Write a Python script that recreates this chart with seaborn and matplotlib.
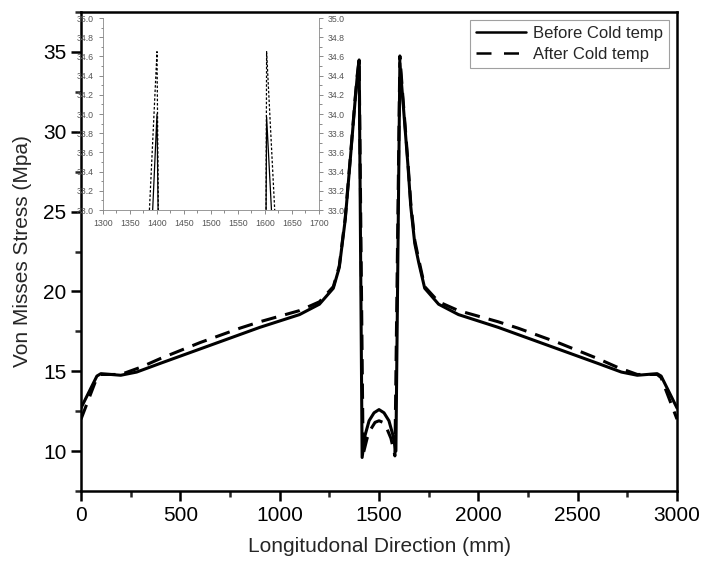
import numpy as np
import pandas as pd
import matplotlib
matplotlib.use("Agg")
import matplotlib.pyplot as plt
from matplotlib.ticker import MultipleLocator
import seaborn as sns

# ---- data ----
x_before = [0, 40, 80, 100, 150, 200, 280, 400, 500, 600, 700, 800, 900, 1000, 1100, 1200, 1270,
            1300, 1330, 1355, 1380, 1390, 1400, 1415, 1430, 1450, 1475, 1500, 1525, 1550, 1570, 1585,
            1605, 1620, 1645, 1660, 1680, 1700, 1730, 1800, 1900, 2000, 2100, 2200, 2300, 2400,
            2500, 2600, 2720, 2800, 2850, 2900, 2920, 2960, 3000]
y_before = [12.7, 13.7, 14.7, 14.85, 14.8, 14.75, 14.95, 15.5, 15.95, 16.4, 16.85, 17.3, 17.75, 18.15, 18.55, 19.2, 20.2,
            21.5, 24.5, 28.2, 32.0, 33.4, 34.5, 9.6, 11.0, 11.9, 12.4, 12.6, 12.4, 11.9, 11.0, 10.0,
            34.3, 32.0, 28.0, 25.3, 23.0, 21.8, 20.2, 19.2, 18.55, 18.15, 17.75, 17.3, 16.85, 16.4,
            15.95, 15.5, 14.95, 14.75, 14.8, 14.85, 14.7, 13.7, 12.7]

x_after = [0, 40, 80, 100, 200, 300, 400, 500, 600, 700, 800, 900, 1000, 1100, 1200, 1270,
           1300, 1330, 1355, 1380, 1390, 1400, 1420, 1440, 1460, 1480, 1500, 1520, 1540, 1560, 1580,
           1605, 1620, 1645, 1660, 1680, 1700, 1730, 1800, 1900, 2000, 2100, 2200, 2300, 2400,
           2500, 2600, 2700, 2800, 2900, 2920, 2960, 3000]
y_after = [12.0, 13.3, 14.6, 14.8, 14.8, 15.25, 15.8, 16.3, 16.8, 17.25, 17.7, 18.1, 18.45, 18.8, 19.35, 20.3,
           21.6, 24.6, 28.3, 32.1, 33.5, 34.55, 9.8, 10.8, 11.4, 11.8, 11.9, 11.8, 11.4, 10.8, 9.7,
           34.75, 32.2, 28.2, 25.5, 23.2, 22.0, 20.3, 19.35, 18.8, 18.45, 18.1, 17.7, 17.25, 16.8,
           16.3, 15.8, 15.25, 14.8, 14.8, 14.6, 13.3, 12.0]

# inset (zoomed peaks)
ins_x_before = [1392, 1400, 1402, 1402.5, 1601.5, 1602, 1603, 1612]
ins_y_before = [33.0, 34.0, 33.0, 32.5, 32.5, 33.0, 33.97, 33.0]
ins_x_after = [1386, 1400, 1402.5, 1403, 1601, 1602, 1603, 1618]
ins_y_after = [33.0, 34.65, 33.0, 32.5, 32.5, 33.0, 34.65, 33.0]

labels = ["Before Cold temp", "After Cold temp"]

df = pd.concat([
    pd.DataFrame({"x": x_before, "y": y_before, "s": labels[0]}),
    pd.DataFrame({"x": x_after, "y": y_after, "s": labels[1]}),
], ignore_index=True)
dfi = pd.concat([
    pd.DataFrame({"x": ins_x_before, "y": ins_y_before, "s": labels[0]}),
    pd.DataFrame({"x": ins_x_after, "y": ins_y_after, "s": labels[1]}),
], ignore_index=True)

sns.set_theme(style="ticks")
plt.rcParams["font.family"] = ["Liberation Sans", "DejaVu Sans"]

fig = plt.figure(figsize=(7.02, 5.62), dpi=100)
ax = fig.add_axes([0.1154, 0.1263, 0.849, 0.8523])

sns.lineplot(data=df, x="x", y="y", hue="s", style="s", sort=False, estimator=None,
             palette=["black", "black"], dashes={labels[0]: "", labels[1]: (5, 3)},
             linewidth=2.2, ax=ax)

ax.set_xlim(0, 3000)
ax.set_ylim(7.5, 37.5)
ax.xaxis.set_major_locator(MultipleLocator(500))
ax.xaxis.set_minor_locator(MultipleLocator(250))
ax.yaxis.set_major_locator(MultipleLocator(5))
ax.yaxis.set_minor_locator(MultipleLocator(2.5))
ax.tick_params(which="major", direction="out", length=7, width=1.8, labelsize=15, colors="black")
ax.tick_params(which="minor", direction="out", length=4, width=1.8)
for sp in ax.spines.values():
    sp.set_visible(True)
    sp.set_linewidth(1.8)
    sp.set_color("black")
ax.set_xlabel("Longitudonal Direction (mm)", fontsize=15, labelpad=9)
ax.set_ylabel("Von Misses Stress (Mpa)", fontsize=15, labelpad=8)

leg = ax.legend(loc="upper right", fontsize=12, frameon=True, fancybox=False,
                handlelength=3.0, borderaxespad=0.5, borderpad=0.35, labelspacing=0.35,
                handletextpad=0.4)
leg.get_frame().set_edgecolor("#888888")
leg.get_frame().set_linewidth(0.8)
for h in leg.get_lines():
    h.set_linewidth(1.8)
leg.get_lines()[1].set_dashes((6, 5))

# inset
axi = fig.add_axes([0.1467, 0.6263, 0.3077, 0.3416])
sns.lineplot(data=dfi, x="x", y="y", hue="s", style="s", sort=False, estimator=None,
             palette=["black", "black"], dashes={labels[0]: "", labels[1]: (2, 1.5)},
             linewidth=0.9, ax=axi, legend=False)
axi.set_xlim(1300, 1700)
axi.set_ylim(33.0, 35.0)
axi.xaxis.set_major_locator(MultipleLocator(50))
axi.xaxis.set_minor_locator(MultipleLocator(25))
axi.yaxis.set_major_locator(MultipleLocator(0.2))
axi.yaxis.set_minor_locator(MultipleLocator(0.1))
axi.tick_params(which="both", labelsize=6.3, colors="#777777", labelcolor="#555555",
                left=True, right=True, labelleft=True, labelright=True, width=0.6)
axi.tick_params(which="major", length=3)
axi.tick_params(which="minor", length=1.8)
axi.set_xlabel("")
axi.set_ylabel("")
axi.patch.set_alpha(0)
axi.spines["top"].set_visible(False)
for s in ["left", "right", "bottom"]:
    axi.spines[s].set_visible(True)
    axi.spines[s].set_color("#888888")
    axi.spines[s].set_linewidth(0.6)

fig.savefig("out.png", dpi=100)
